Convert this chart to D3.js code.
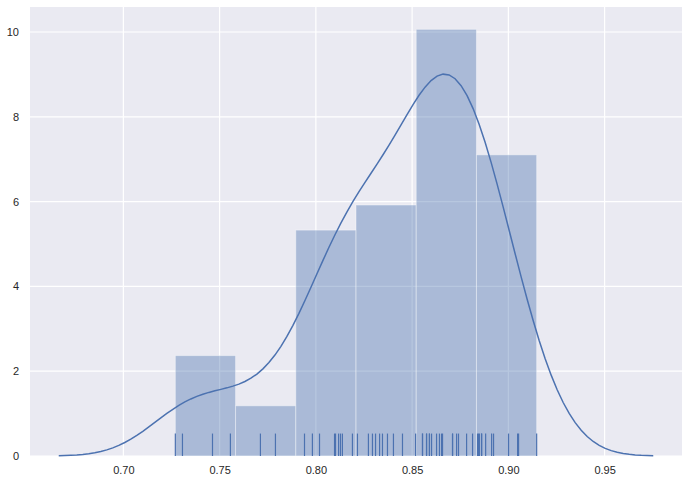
<!DOCTYPE html>
<html>
<head>
<meta charset="utf-8">
<script src="https://cdn.jsdelivr.net/npm/d3@7"></script>
<style>
  body { margin: 0; background: #fff; }
  text { font-family: "Liberation Sans", Arial, sans-serif; font-size: 11px; fill: #262626; }
</style>
</head>
<body>
<svg id="chart" width="689" height="483"></svg>
<script>
var values = [
  0.7270, 0.7307, 0.7463, 0.7556,
  0.7712, 0.7790,
  0.7941, 0.7982, 0.8019, 0.8097, 0.8102, 0.8118, 0.8128, 0.8138, 0.8190,
  0.8216, 0.8273, 0.8294, 0.8310, 0.8331, 0.8346, 0.8372, 0.8403, 0.8450, 0.8518,
  0.8554, 0.8554, 0.8575, 0.8575, 0.8590, 0.8590, 0.8601, 0.8627, 0.8642, 0.8653,
  0.8658, 0.8710, 0.8710, 0.8731, 0.8741, 0.8783, 0.8814,
  0.8840, 0.8845, 0.8850, 0.8861, 0.8861, 0.8882, 0.8913, 0.8923, 0.9001, 0.9048, 0.9053, 0.9147
];
var xTicks = [0.70, 0.75, 0.80, 0.85, 0.90, 0.95];
var yTicks = [0, 2, 4, 6, 8, 10];
var binCount = 6;

var color = '#4c72b0';
var svg = d3.select('#chart');

// plot box
var pLeft = 30, pRight = 682, pTop = 7, pBottom = 456;

var x = d3.scaleLinear().domain([0.6515, 0.9902]).range([pLeft, pRight]);
var y = d3.scaleLinear().domain([0, 10.59]).range([pBottom, pTop]);

// histogram (density normalised, numpy-style equal bins)
var vmin = d3.min(values), vmax = d3.max(values);
var bw = (vmax - vmin) / binCount;
var bins = d3.range(binCount).map(function (i) {
    return { x0: vmin + i * bw, x1: vmin + (i + 1) * bw, n: 0 };
});
values.forEach(function (v) {
    var i = Math.min(binCount - 1, Math.floor((v - vmin) / bw));
    bins[i].n += 1;
});
bins.forEach(function (b) { b.density = b.n / (values.length * bw); });

// gaussian kde, scott bandwidth
var n = values.length;
var sd = d3.deviation(values);
var h = sd * Math.pow(n, -1 / 5);
var gridX = d3.range(100).map(function (i) {
    return (vmin - 3 * h) + i * ((vmax - vmin + 6 * h) / 99);
});
var kde = gridX.map(function (gx) {
    var s = d3.sum(values, function (v) {
        var z = (gx - v) / h;
        return Math.exp(-0.5 * z * z);
    });
    return [gx, s / (n * h * Math.sqrt(2 * Math.PI))];
});

// background + grid
svg.append('rect')
    .attr('x', pLeft).attr('y', pTop)
    .attr('width', pRight - pLeft).attr('height', pBottom - pTop)
    .attr('fill', '#eaeaf2');

var grid = svg.append('g');
grid.selectAll('.gx').data(xTicks).enter().append('line')
    .attr('x1', function (d) { return x(d); })
    .attr('x2', function (d) { return x(d); })
    .attr('y1', pTop).attr('y2', pBottom)
    .attr('stroke', '#fff').attr('stroke-width', 1.2);
grid.selectAll('.gy').data(yTicks).enter().append('line')
    .attr('x1', pLeft).attr('x2', pRight)
    .attr('y1', function (d) { return y(d); })
    .attr('y2', function (d) { return y(d); })
    .attr('stroke', '#fff').attr('stroke-width', 1.2);

// bars
svg.append('g').selectAll('rect').data(bins).enter().append('rect')
    .attr('x', function (d) { return x(d.x0); })
    .attr('y', function (d) { return y(d.density); })
    .attr('width', function (d) { return x(d.x1) - x(d.x0); })
    .attr('height', function (d) { return y(0) - y(d.density); })
    .attr('fill', color).attr('fill-opacity', 0.4)
    .attr('stroke', '#fff').attr('stroke-opacity', 0.4).attr('stroke-width', 1);

// kde line
svg.append('path')
    .datum(kde)
    .attr('fill', 'none')
    .attr('stroke', color)
    .attr('stroke-width', 1.5)
    .attr('d', d3.line()
        .x(function (d) { return x(d[0]); })
        .y(function (d) { return y(d[1]); }));

// rug
var rugH = 0.05 * (pBottom - pTop);
svg.append('g').selectAll('line').data(values).enter().append('line')
    .attr('x1', function (d) { return x(d); })
    .attr('x2', function (d) { return x(d); })
    .attr('y1', pBottom).attr('y2', pBottom - rugH)
    .attr('stroke', color).attr('stroke-width', 1.2);

// axes (labels only, no spines)
var xAxis = svg.append('g')
    .attr('transform', 'translate(0,' + pBottom + ')')
    .call(d3.axisBottom(x).tickValues(xTicks).tickFormat(d3.format('.2f')).tickSize(0).tickPadding(10));
var yAxis = svg.append('g')
    .attr('transform', 'translate(' + pLeft + ',0)')
    .call(d3.axisLeft(y).tickValues(yTicks).tickSize(0).tickPadding(11));
[xAxis, yAxis].forEach(function (a) {
    a.select('.domain').remove();
    a.selectAll('text').attr('font-size', 11).attr('font-family', '"Liberation Sans", Arial, sans-serif').attr('fill', '#262626');
});
</script>
</body>
</html>
